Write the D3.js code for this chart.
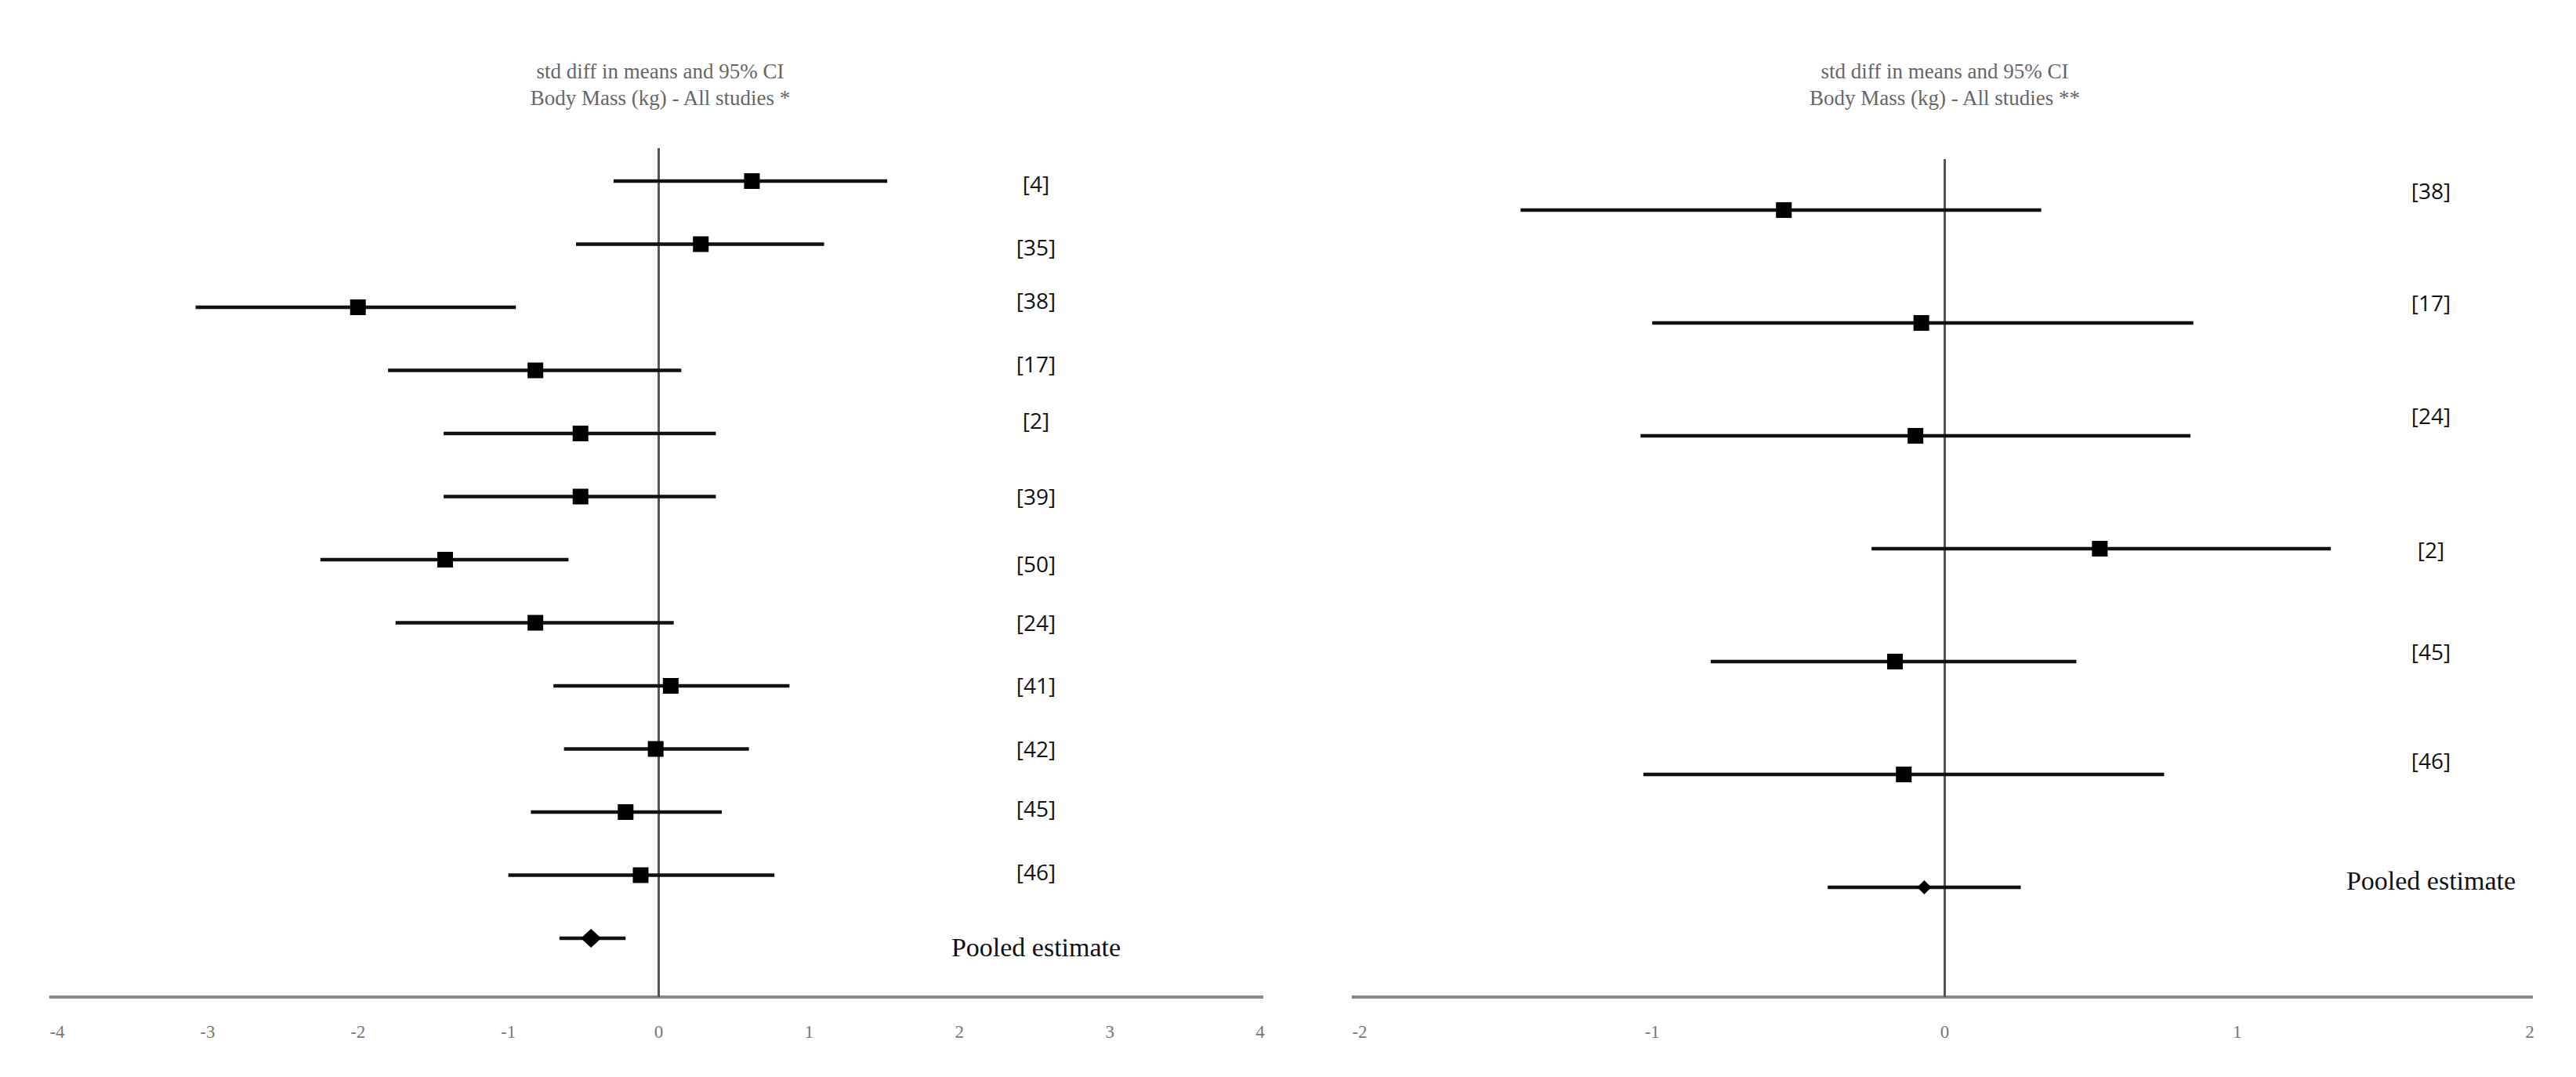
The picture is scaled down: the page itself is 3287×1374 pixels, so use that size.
<!DOCTYPE html>
<html><head><meta charset="utf-8">
<script src="https://cdn.jsdelivr.net/npm/d3@7"></script>
<style>body{margin:0;background:#fff}</style>
</head><body><svg id="chart" width="3287" height="1374"></svg>
<script>
// left panel
var leftStudies = ['[4]','[35]','[38]','[17]','[2]','[39]','[50]','[24]','[41]','[42]','[45]','[46]','Pooled estimate'];
var leftMean = [0.62, 0.28, -2.0, -0.82, -0.52, -0.52, -1.42, -0.82, 0.08, -0.02, -0.22, -0.12, -0.45];
var leftLow  = [-0.3, -0.55, -3.08, -1.8, -1.43, -1.43, -2.25, -1.75, -0.7, -0.63, -0.85, -1.0, -0.66];
var leftHigh = [1.52, 1.1, -0.95, 0.15, 0.38, 0.38, -0.6, 0.1, 0.87, 0.6, 0.42, 0.77, -0.22];
var leftTicks = [-4, -3, -2, -1, 0, 1, 2, 3, 4];
// right panel
var rightStudies = ['[38]','[17]','[24]','[2]','[45]','[46]','Pooled estimate'];
var rightMean = [-0.55, -0.08, -0.1, 0.53, -0.17, -0.14, -0.07];
var rightLow  = [-1.45, -1.0, -1.04, -0.25, -0.8, -1.03, -0.4];
var rightHigh = [0.33, 0.85, 0.84, 1.32, 0.45, 0.75, 0.26];
var rightTicks = [-2, -1, 0, 1, 2];

var svg = d3.select('#chart');

function panel(o){
  var g = svg.append('g');
  var x = d3.scaleLinear().domain(o.domain).range(o.xr);
  var y = d3.scaleLinear().domain([0, o.studies.length - 1]).range(o.yr);
  g.append('line').attr('x1', o.xr[0] - 10).attr('x2', o.xr[1] + 4)
    .attr('y1', 1272).attr('y2', 1272).attr('stroke', '#888').attr('stroke-width', 4);
  g.append('line').attr('x1', x(0)).attr('x2', x(0)).attr('y1', o.top).attr('y2', 1272)
    .attr('stroke', '#555').attr('stroke-width', 3);
  g.selectAll('.tk').data(o.ticks).enter().append('text')
    .attr('x', function(d){ return x(d); }).attr('y', 1324)
    .attr('text-anchor', 'middle').attr('font-family', 'Liberation Serif').attr('font-size', 23)
    .attr('fill', '#777').text(function(d){ return d; });
  g.append('text').attr('x', x(0) + o.tdx).attr('y', 100).attr('text-anchor', 'middle')
    .attr('font-family', 'Liberation Serif').attr('font-size', 27).attr('fill', '#666')
    .text('std diff in means and 95% CI');
  g.append('text').attr('x', x(0) + o.tdx).attr('y', 134).attr('text-anchor', 'middle')
    .attr('font-family', 'Liberation Serif').attr('font-size', 27).attr('fill', '#666')
    .text(o.title);
  var n = o.studies.length;
  o.studies.forEach(function(s, i){
    g.append('line').attr('x1', x(o.low[i])).attr('x2', x(o.high[i]))
      .attr('y1', y(i)).attr('y2', y(i)).attr('stroke', '#111').attr('stroke-width', 4.5);
    if (i < n - 1) {
      g.append('rect').attr('x', x(o.mean[i]) - 10).attr('y', y(i) - 10)
        .attr('width', 20).attr('height', 20).attr('fill', '#000');
      g.append('text').attr('x', o.labelX).attr('y', y(i) + o.ldy[i] + 10)
        .attr('text-anchor', 'middle').attr('font-family', 'Open Sans').attr('font-size', 28)
        .attr('fill', '#111').text(s);
    } else {
      var cx = x(o.mean[i]), cy = y(i), w = o.dw, h = o.dh;
      g.append('path').attr('d', 'M' + (cx - w) + ',' + cy + 'L' + cx + ',' + (cy - h) +
          'L' + (cx + w) + ',' + cy + 'L' + cx + ',' + (cy + h) + 'Z').attr('fill', '#000');
      g.append('text').attr('x', o.labelX).attr('y', y(i) + o.ldy[i] + 11)
        .attr('text-anchor', 'middle').attr('font-family', 'Liberation Serif').attr('font-size', 34)
        .attr('fill', '#111').text(s);
    }
  });
}

panel({studies: leftStudies, mean: leftMean, low: leftLow, high: leftHigh, ticks: leftTicks,
  domain: [-4, 4], xr: [73, 1608], yr: [231, 1197], top: 189, labelX: 1322, tdx: 2,
  ldy: [4, 4, -8, -8, -16, 0, 6, 0, 0, 0, -4, -4, 12], dw: 13, dh: 12, title: 'Body Mass (kg) - All studies *'});
panel({studies: rightStudies, mean: rightMean, low: rightLow, high: rightHigh, ticks: rightTicks,
  domain: [-2, 2], xr: [1735, 3228], yr: [268, 1132], top: 203, labelX: 3102, tdx: 0,
  ldy: [-24, -25, -25, 2, -12, -17, -8], dw: 9, dh: 9, title: 'Body Mass (kg) - All studies **'});
</script>
</body></html>
